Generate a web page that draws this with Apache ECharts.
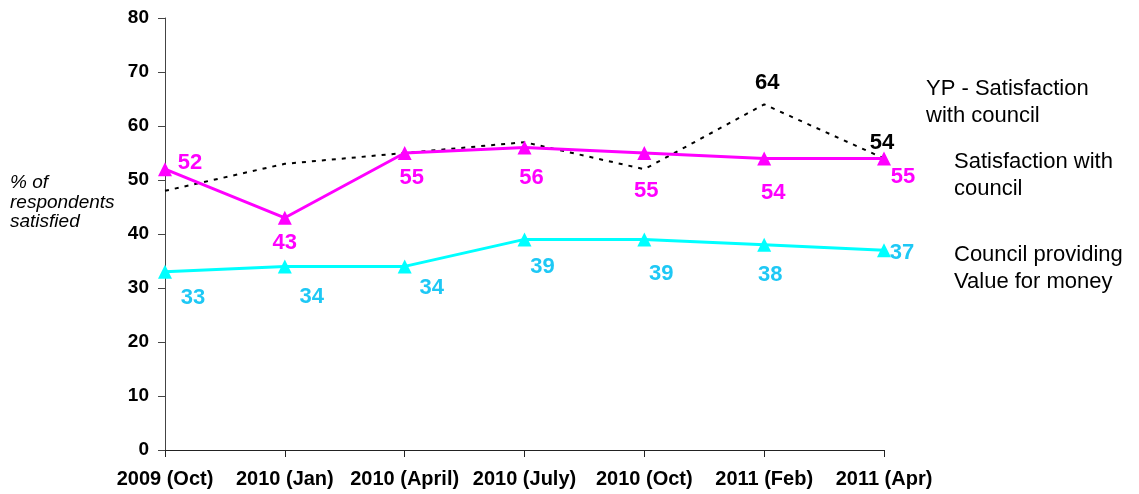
<!DOCTYPE html>
<html>
<head>
<meta charset="utf-8">
<script src="https://cdn.jsdelivr.net/npm/echarts@6/dist/echarts.min.js"></script>
<style>
  html, body { margin: 0; padding: 0; background: #fff; }
  #chart { width: 1139px; height: 494px; }
</style>
</head>
<body>
<div id="chart"></div>
<script>
// 数据
var categories = ['2009 (Oct)', '2010 (Jan)', '2010 (April)', '2010 (July)', '2010 (Oct)', '2011 (Feb)', '2011 (Apr)'];
var ypSatisfaction = [48, 53, 55, 57, 52, 64, 54];
var ypLabels = ['', '', '', '', '', '64', '54'];
var satisfaction = [52, 43, 55, 56, 55, 54, 54];
var satisfactionLabels = ['52', '43', '55', '56', '55', '54', '55'];
var valueForMoney = [33, 34, 34, 39, 39, 38, 37];
var valueLabels = ['33', '34', '34', '39', '39', '38', '37'];

// 标签偏移 (px, 相对数据点)
var ypOffsets = [[0, 0], [0, 0], [0, 0], [0, 0], [0, 0], [3, -21], [-2, -15]];
var satOffsets = [[25, -6], [0, 25], [7, 25], [7, 30], [2, 38], [9, 35], [19, 19]];
var valOffsets = [[28, 26], [27, 31], [27, 22], [18, 28], [17, 35], [6, 30], [18, 3]];

function buildData(values, labels, offsets, color) {
  return values.map(function (v, i) {
    return {
      value: v,
      label: {
        show: labels[i] !== '',
        formatter: labels[i],
        position: 'inside',
        offset: offsets[i],
        color: color,
        fontSize: 22,
        fontWeight: 'bold',
        fontFamily: 'Liberation Sans, Arial'
      }
    };
  });
}

var chart = echarts.init(document.getElementById('chart'));
var legendFont = { fontSize: 22, fontFamily: 'Liberation Sans, Arial', fill: '#000', lineHeight: 27 };

chart.setOption({
  animation: false,
  grid: { left: 165, right: 255, top: 18, bottom: 44, containLabel: false },
  xAxis: {
    type: 'category',
    data: categories,
    boundaryGap: false,
    axisLine: { lineStyle: { color: '#222', width: 1 } },
    axisTick: { show: true, length: 7, inside: false, lineStyle: { color: '#222' } },
    axisLabel: {
      color: '#000', fontSize: 20, fontWeight: 'bold', fontFamily: 'Liberation Sans, Arial',
      margin: 19, interval: 0
    },
    splitLine: { show: false }
  },
  yAxis: {
    type: 'value',
    min: 0, max: 80, interval: 10,
    axisLine: { show: true, lineStyle: { color: '#444', width: 1 } },
    axisTick: { show: true, length: 7, lineStyle: { color: '#444' } },
    axisLabel: {
      color: '#000', fontSize: 19, fontWeight: 'bold', fontFamily: 'Liberation Sans, Arial', margin: 16
    },
    splitLine: { show: false }
  },
  graphic: [
    { type: 'text', left: 10, top: 173, style: Object.assign({}, legendFont, { text: '% of\nrespondents\nsatisfied', fontStyle: 'italic', fontSize: 19, lineHeight: 19.5 }) },
    { type: 'text', left: 926, top: 75, style: Object.assign({ text: 'YP - Satisfaction\nwith council' }, legendFont) },
    { type: 'text', left: 954, top: 148, style: Object.assign({ text: 'Satisfaction with\ncouncil' }, legendFont) },
    { type: 'text', left: 954, top: 241, style: Object.assign({ text: 'Council providing\nValue for money' }, legendFont) }
  ],
  series: [
    {
      name: 'YP - Satisfaction with council',
      type: 'line',
      data: buildData(ypSatisfaction, ypLabels, ypOffsets, '#000'),
      symbol: 'circle',
      symbolSize: 1,
      itemStyle: { color: 'rgba(0,0,0,0)' },
      lineStyle: { color: '#000', width: 2, type: [4, 6] },
      z: 1
    },
    {
      name: 'Satisfaction with council',
      type: 'line',
      data: buildData(satisfaction, satisfactionLabels, satOffsets, '#ff00ff'),
      symbol: 'triangle',
      symbolSize: 14,
      itemStyle: { color: '#ff00ff' },
      lineStyle: { color: '#ff00ff', width: 3 },
      z: 2
    },
    {
      name: 'Council providing Value for money',
      type: 'line',
      data: buildData(valueForMoney, valueLabels, valOffsets, '#1ec8f5'),
      symbol: 'triangle',
      symbolSize: 14,
      itemStyle: { color: '#00ffff' },
      lineStyle: { color: '#00ffff', width: 3 },
      z: 2
    }
  ]
});
</script>
</body>
</html>
